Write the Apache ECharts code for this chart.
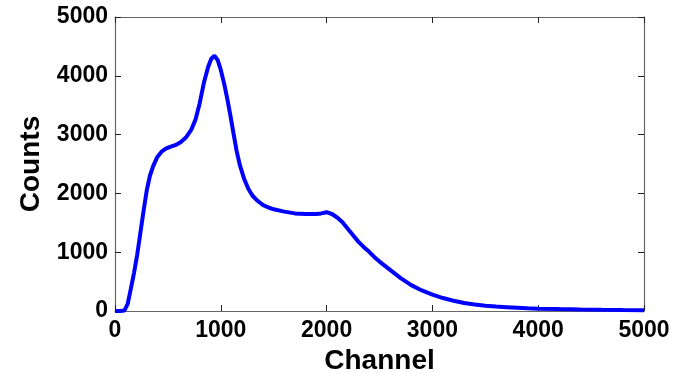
<!DOCTYPE html>
<html>
<head>
<meta charset="utf-8">
<script src="https://cdn.jsdelivr.net/npm/echarts/dist/echarts.min.js"></script>
<style>
  html, body { margin: 0; padding: 0; background: #fff; }
  #chart { width: 681px; height: 373px; }
</style>
</head>
<body>
<div id="chart"></div>
<script>
// spectrum
const channels = [0, 50, 90, 120, 150, 180, 210, 240, 270, 300, 330, 360, 400, 440, 480, 520, 570, 620, 670, 720,
  760, 800, 840, 880, 910, 940, 970, 1000, 1030, 1060, 1090, 1120, 1150, 1180, 1220, 1260, 1300, 1350, 1400, 1450,
  1500, 1600, 1700, 1800, 1900, 1950, 2000, 2050, 2100, 2150, 2200, 2250, 2300, 2350, 2400, 2450, 2500, 2600, 2700,
  2800, 2900, 3000, 3100, 3200, 3300, 3400, 3500, 3600, 3700, 3800, 3900, 4000, 4200, 4400, 4600, 4800, 5000];
const counts = [0, 0, 10, 120, 380, 650, 960, 1330, 1700, 2050, 2300, 2460, 2620, 2710, 2760, 2790, 2820, 2870, 2950, 3080,
  3250, 3530, 3880, 4150, 4290, 4340, 4270, 4100, 3880, 3620, 3330, 3020, 2720, 2480, 2250, 2080, 1960, 1870, 1800, 1760,
  1730, 1690, 1660, 1650, 1650, 1660, 1680, 1650, 1590, 1510, 1400, 1290, 1180, 1090, 1010, 920, 840, 700, 560,
  440, 350, 280, 220, 175, 135, 110, 90, 75, 65, 55, 45, 40, 32, 25, 20, 16, 14];
const xTicks = [0, 1000, 2000, 3000, 4000, 5000];
const yTicks = [0, 1000, 2000, 3000, 4000, 5000];

const lineData = channels.map((c, i) => [c, counts[i]]);

const labelFont = { fontFamily: 'Liberation Sans', fontWeight: 'bold', fontSize: 23, color: '#000' };
const titleFont = { fontFamily: 'Liberation Sans', fontWeight: 'bold', fontSize: 28, color: '#000' };
const axisLine = { show: true, onZero: false, lineStyle: { color: '#666', width: 1.2 } };
const tick = { show: true, inside: true, length: 6, lineStyle: { color: '#222' } };
const plain = (v) => String(v);

const options = {
  animation: false,
  backgroundColor: '#fff',
  grid: { left: 115, right: 37, top: 17, bottom: 62, containLabel: false, outerBoundsMode: 'none' },
  xAxis: [
    {
      type: 'value',
      position: 'bottom',
      min: xTicks[0],
      max: xTicks[xTicks.length - 1],
      interval: 1000,
      name: 'Channel',
      nameLocation: 'middle',
      nameGap: 28,
      nameTextStyle: titleFont,
      axisLine: axisLine,
      axisTick: tick,
      axisLabel: Object.assign({ margin: 8, formatter: plain }, labelFont),
      splitLine: { show: false }
    },
    {
      type: 'value',
      position: 'top',
      min: xTicks[0],
      max: xTicks[xTicks.length - 1],
      interval: 1000,
      axisLine: axisLine,
      axisTick: tick,
      axisLabel: { show: false },
      splitLine: { show: false }
    }
  ],
  yAxis: [
    {
      type: 'value',
      position: 'left',
      min: yTicks[0],
      max: yTicks[yTicks.length - 1],
      interval: 1000,
      name: 'Counts',
      nameLocation: 'middle',
      nameGap: 70,
      nameTextStyle: titleFont,
      axisLine: axisLine,
      axisTick: tick,
      axisLabel: Object.assign({ margin: 7, formatter: plain }, labelFont),
      splitLine: { show: false }
    },
    {
      type: 'value',
      position: 'right',
      min: yTicks[0],
      max: yTicks[yTicks.length - 1],
      interval: 1000,
      axisLine: axisLine,
      axisTick: tick,
      axisLabel: { show: false },
      splitLine: { show: false }
    }
  ],
  series: [
    {
      type: 'line',
      data: lineData,
      showSymbol: false,
      symbol: 'none',
      lineStyle: { color: '#0000ff', width: 4 },
      z: 5
    }
  ]
};

const chart = echarts.init(document.getElementById('chart'));
chart.setOption(options);
window.addEventListener('resize', () => {
  chart.resize();
});
</script>
</body>
</html>
